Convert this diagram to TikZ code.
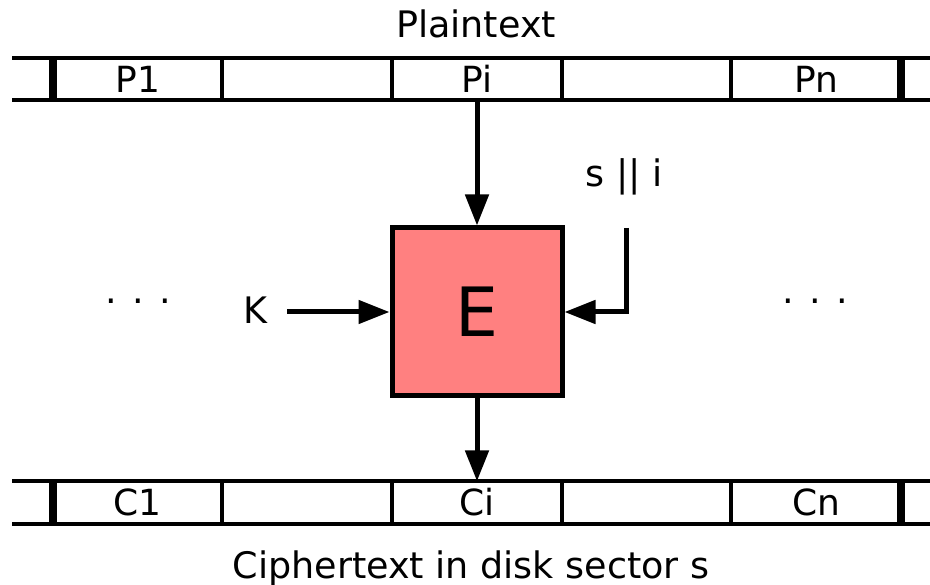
\documentclass[tikz,border=0pt]{standalone}
\usepackage{fontspec}
\setmainfont{DejaVu Sans}
\usepackage{tikz}
\usetikzlibrary{arrows.meta, positioning}
\definecolor{efill}{HTML}{FF8080}

\begin{document}
\begin{tikzpicture}[x=1pt, y=-1pt, >={Triangle[length=31pt, width=23pt]},
    cell/.style={minimum width=169.6pt, minimum height=42pt, inner sep=0pt, font=\fontsize{36}{40}\selectfont},
    txt/.style={anchor=base, font=\fontsize{36.5}{40}\selectfont},
    bar/.style={line width=4pt},
    endbar/.style={line width=8pt},
    arr/.style={->, line width=5pt}]
    \useasboundingbox (0,0) rectangle (930,585);

    % 1. Bar of plaintext sectors
    \node[txt] (plain) at (476,38) {Plaintext};
    \foreach \x/\name/\lbl in {137.8/p1/P1, 307.4/p2/, 477/pi/Pi, 646.6/p4/, 816.2/pn/Pn} {
        \node[cell] (\name) at (\x,79) {\lbl};
    }
    \draw[bar] (12,58) -- (930,58);
    \draw[bar] (12,100) -- (930,100);
    \foreach \n in {p2, pi, p4, pn} {
        \draw[bar] (\n.north west) -- (\n.south west);
    }
    \draw[endbar] (p1.north west) -- (p1.south west);
    \draw[endbar] (pn.north east) -- (pn.south east);

    % 2. Bar of ciphertext sectors
    \foreach \x/\name/\lbl in {137.8/c1/C1, 307.4/c2/, 477/ci/Ci, 646.6/c4/, 816.2/cn/Cn} {
        \node[cell] (\name) at (\x,502.5) {\lbl};
    }
    \draw[bar] (12,481.5) -- (930,481.5);
    \draw[bar] (12,523.5) -- (930,523.5);
    \foreach \n in {c2, ci, c4, cn} {
        \draw[bar] (\n.north west) -- (\n.south west);
    }
    \draw[endbar] (c1.north west) -- (c1.south west);
    \draw[endbar] (cn.north east) -- (cn.south east);
    \node[txt] (cipher) at (471,578) {Ciphertext in disk sector s};

    % 3. Block cipher E with its inputs
    \node[draw, line width=5pt, fill=efill, minimum width=170pt, minimum height=168pt,
          font=\fontsize{68}{68}\selectfont] (e) at (477,312) {E};
    \draw[arr] (pi.south) -- (e.north);
    \draw[arr] (e.south) -- (ci.north);

    \node[txt] (k) at (255,324) {K};
    \coordinate (kin) at (287,312);
    \draw[arr] (kin) -- (e.west);

    \node[txt] (si) at (624,187) {s || i};
    \coordinate (sin) at (626,228);
    \draw[arr] (sin) |- (e.east);

    % dots left and right
    \node[txt] (ldots) at (138,304) {. . .};
    \node[txt] (rdots) at (815,304) {. . .};

\end{tikzpicture}
\end{document}
